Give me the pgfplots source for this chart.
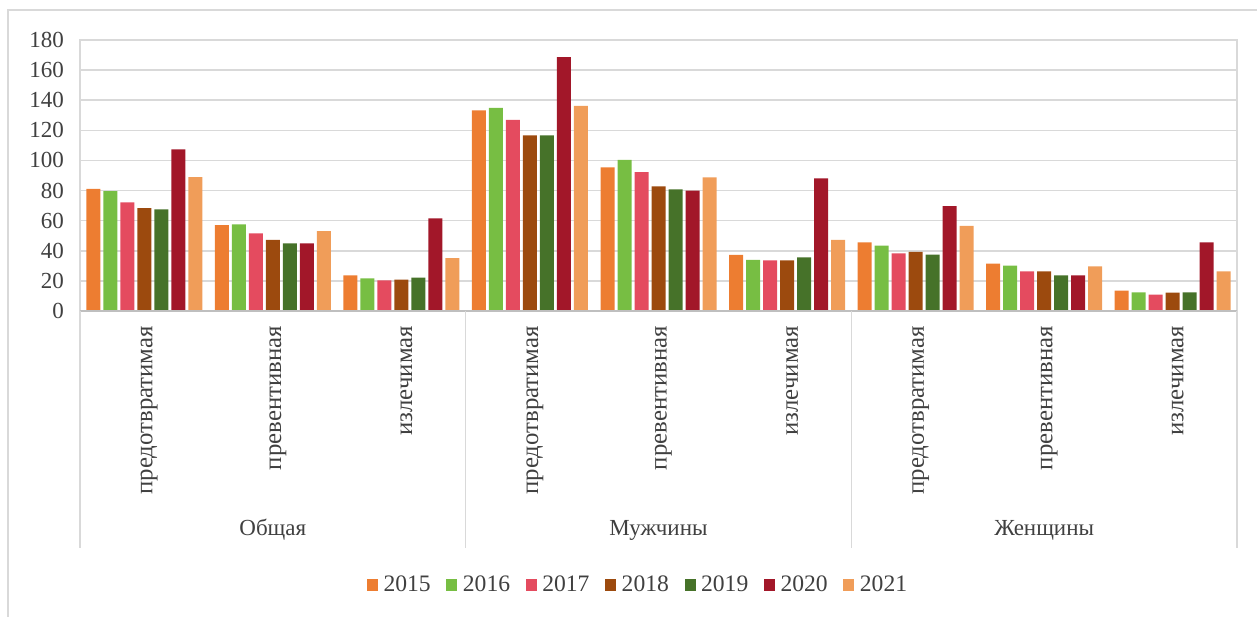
\documentclass[border=0pt]{standalone}
\usepackage{fontspec}
\setmainfont{Liberation Serif}
\usepackage{pgfplots}
\pgfplotsset{compat=1.18}
\usepackage{pgfplotstable}

\definecolor{c2015}{HTML}{ED7D31}
\definecolor{c2016}{HTML}{77BE43}
\definecolor{c2017}{HTML}{E44B5F}
\definecolor{c2018}{HTML}{9C4A0E}
\definecolor{c2019}{HTML}{467229}
\definecolor{c2020}{HTML}{A21729}
\definecolor{c2021}{HTML}{F09D59}
\definecolor{gridgray}{HTML}{D9D9D9}
\definecolor{axisgray}{HTML}{BFBFBF}
\definecolor{txt}{HTML}{404040}

% x: 0-2 Общая, 3-5 Мужчины, 6-8 Женщины
\pgfplotstableread{
x  y2015 y2016 y2017 y2018 y2019 y2020 y2021
0  81.2  79.7  72.2  68.4  67.5  107.4 89.0
1  57.1  57.6  51.6  47.2  44.9  44.9  53.1
2  23.7  21.7  20.4  20.8  22.1  61.5  35.2
3  133.3 135.0 126.9 116.7 116.7 168.7 136.2
4  95.4  100.3 92.3  82.8  80.8  79.9  88.8
5  37.2  33.9  33.7  33.7  35.6  88.1  47.2
6  45.6  43.4  38.3  39.2  37.4  69.7  56.5
7  31.4  30.1  26.3  26.3  23.7  23.7  29.7
8  13.5  12.4  10.8  12.2  12.4  45.6  26.3
}\rates

\begin{document}
\fontsize{11.5}{13}\selectfont
\begin{tikzpicture}
\useasboundingbox (-40pt,-152.5pt) rectangle (588.5pt,155.5pt);
% outer chart frame
\draw[gridgray, line width=0.8pt] (-36pt,-170pt) rectangle (600pt,150.5pt);
\begin{axis}[
  at={(0,0)}, anchor=south west,
  scale only axis,
  width=578.5pt, height=135.5pt,
  ybar=1.5pt, bar width=7pt,
  xmin=-0.5, xmax=8.5,
  ymin=0, ymax=180,
  ytick={0,20,...,180},
  xtick={0,...,8},
  xticklabels={предотвратимая,превентивная,излечимая,предотвратимая,превентивная,излечимая,предотвратимая,превентивная,излечимая},
  % rotated frame: xshift moves the label down, yshift moves it sideways
  xticklabel style={rotate=90, anchor=east, xshift=-3.5pt, yshift=-2.5pt, text=txt,
    font=\fontsize{12.4}{14}\selectfont},
  yticklabel style={xshift=-4pt, text=txt},
  /pgf/number format/assume math mode=true,
  major tick length=0pt,
  ymajorgrids, grid style={gridgray, line width=0.8pt},
  axis line style={gridgray, line width=0.8pt},
  clip=false,
  legend style={at={(0.483,-1.011)}, anchor=center, draw=none, fill=none,
    legend columns=-1, font=\fontsize{11.8}{13}\selectfont, text=txt,
    nodes={inner sep=1.8pt},
    /tikz/every odd column/.append style={column sep=1pt},
    /tikz/every even column/.append style={column sep=6pt}},
  legend image code/.code={\path[#1, draw=none] (0pt,-2.8pt) rectangle (5.5pt,2.8pt);},
]
\addplot[fill=c2015, draw=none] table[x=x, y=y2015] {\rates};
\addplot[fill=c2016, draw=none] table[x=x, y=y2016] {\rates};
\addplot[fill=c2017, draw=none] table[x=x, y=y2017] {\rates};
\addplot[fill=c2018, draw=none] table[x=x, y=y2018] {\rates};
\addplot[fill=c2019, draw=none] table[x=x, y=y2019] {\rates};
\addplot[fill=c2020, draw=none] table[x=x, y=y2020] {\rates};
\addplot[fill=c2021, draw=none] table[x=x, y=y2021] {\rates};
\legend{2015,2016,2017,2018,2019,2020,2021}

% baseline
\draw[axisgray, line width=0.8pt] (axis cs:-0.5,0) -- (axis cs:8.5,0);
% group separators and group names
\pgfplotsinvokeforeach{-0.5,2.5,5.5,8.5}{
  \draw[gridgray, line width=0.8pt] (axis cs:#1,0) -- ([yshift=-118.5pt]axis cs:#1,0);
}
\node[text=txt] at ([yshift=-109.5pt]axis cs:1,0) {Общая};
\node[text=txt] at ([yshift=-109.5pt]axis cs:4,0) {Мужчины};
\node[text=txt] at ([yshift=-109.5pt]axis cs:7,0) {Женщины};
\end{axis}
\end{tikzpicture}
\end{document}
